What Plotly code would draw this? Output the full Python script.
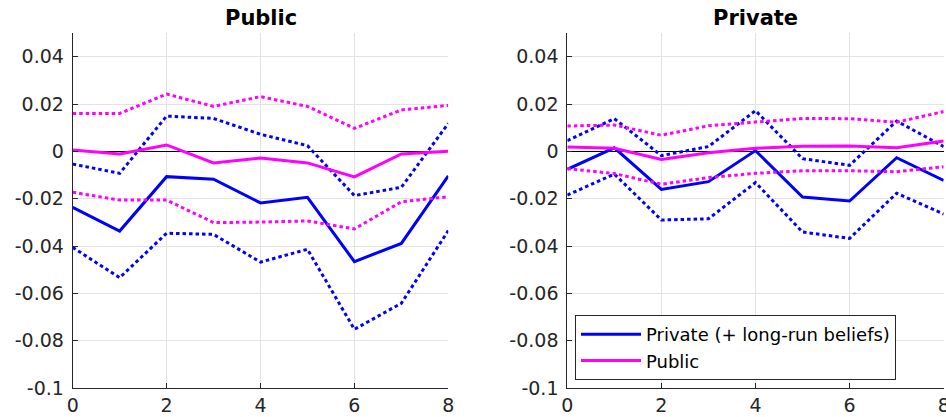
import plotly.graph_objects as go

# Horizons (quarters after the shock)
horizon = [0, 1, 2, 3, 4, 5, 6, 7, 8]

# Panel "Public": point estimates and bands
pub_priv_mean = [-0.0237, -0.0337, -0.0107, -0.0118, -0.0218, -0.0194, -0.0466, -0.0389, -0.0104]
pub_priv_lo = [-0.0406, -0.0534, -0.0346, -0.0351, -0.0468, -0.0414, -0.0752, -0.0642, -0.0335]
pub_priv_hi = [-0.0054, -0.0093, 0.0149, 0.0139, 0.0072, 0.0024, -0.0187, -0.0152, 0.0118]
pub_pub_mean = [0.0006, -0.0011, 0.0027, -0.0049, -0.0028, -0.0049, -0.0108, -0.0011, 0.0000]
pub_pub_lo = [-0.0173, -0.0206, -0.0206, -0.0301, -0.0299, -0.0294, -0.0328, -0.0213, -0.0192]
pub_pub_hi = [0.0160, 0.0160, 0.0242, 0.0190, 0.0231, 0.0190, 0.0097, 0.0175, 0.0194]

# Panel "Private": point estimates and bands
prv_priv_mean = [-0.0076, 0.0015, -0.0161, -0.0128, 0.0003, -0.0193, -0.0210, -0.0027, -0.0123]
prv_priv_lo = [-0.0185, -0.0096, -0.0290, -0.0285, -0.0132, -0.0341, -0.0368, -0.0177, -0.0265]
prv_priv_hi = [0.0045, 0.0138, -0.0018, 0.0020, 0.0172, -0.0031, -0.0059, 0.0128, 0.0020]
prv_pub_mean = [0.0018, 0.0013, -0.0034, -0.0006, 0.0013, 0.0021, 0.0023, 0.0015, 0.0044]
prv_pub_lo = [-0.0073, -0.0094, -0.0139, -0.0111, -0.0093, -0.0082, -0.0082, -0.0086, -0.0065]
prv_pub_hi = [0.0107, 0.0111, 0.0068, 0.0108, 0.0124, 0.0139, 0.0138, 0.0123, 0.0168]

panel_titles = ["Public", "Private"]
series_names = ["Private (+ long-run beliefs)", "Public"]

y_tickvals = [-0.1, -0.08, -0.06, -0.04, -0.02, 0, 0.02, 0.04]
y_ticktext = ["-0.1", "-0.08", "-0.06", "-0.04", "-0.02", "0", "0.02", "0.04"]
x_tickvals = [0, 2, 4, 6, 8]

BLUE = "#0000FF"
MAGENTA = "#FF00FF"
FONT = "DejaVu Sans"
AXIS_COLOR = "#262626"
LW = 3
DOTS = "3.5px,3px"

W, H = 946, 417
fig = go.Figure()

panels = [
    ("x", "y", pub_priv_mean, pub_priv_lo, pub_priv_hi, pub_pub_mean, pub_pub_lo, pub_pub_hi, False),
    ("x2", "y2", prv_priv_mean, prv_priv_lo, prv_priv_hi, prv_pub_mean, prv_pub_lo, prv_pub_hi, True),
]

for xa, ya, bm, bl, bh, mm, ml, mh, legend in panels:
    for mean, lo, hi, color, name in [(bm, bl, bh, BLUE, series_names[0]),
                                      (mm, ml, mh, MAGENTA, series_names[1])]:
        # confidence bands (dotted) then the point estimate (solid)
        for band in (lo, hi):
            fig.add_trace(go.Scatter(x=horizon, y=band, mode="lines", xaxis=xa, yaxis=ya,
                                     line=dict(color=color, width=LW, dash=DOTS),
                                     showlegend=False, hoverinfo="skip"))
        fig.add_trace(go.Scatter(x=horizon, y=mean, mode="lines", xaxis=xa, yaxis=ya,
                                 line=dict(color=color, width=LW), name=name,
                                 showlegend=legend))

y_dom = [1 - 388 / H, 1 - 33 / H]
x_doms = [[72.7 / W, 448.3 / W], [567.3 / W, 943.7 / W]]

tick_font = dict(family=FONT, size=19, color=AXIS_COLOR)
common_x = dict(range=[0, 8], tickvals=x_tickvals, showgrid=True, gridcolor="#e3e3e3",
                gridwidth=1, zeroline=False, showline=True, linecolor=AXIS_COLOR,
                linewidth=1, ticks="inside", ticklen=5, tickcolor=AXIS_COLOR,
                tickfont=tick_font, mirror=False, automargin=False,
                ticklabeloverflow="allow")
common_y = dict(range=[-0.1, 0.05], tickvals=y_tickvals, ticktext=y_ticktext, showgrid=True,
                gridcolor="#e3e3e3", gridwidth=1, zeroline=True, zerolinecolor="black",
                zerolinewidth=1, showline=True, linecolor=AXIS_COLOR, linewidth=1,
                ticks="inside", ticklen=5, tickcolor=AXIS_COLOR,
                tickfont=tick_font, mirror=False, automargin=False, ticklabelstandoff=4)

fig.update_layout(
    width=W, height=H,
    margin=dict(l=0, r=0, t=0, b=0, autoexpand=False),
    paper_bgcolor="white", plot_bgcolor="white",
    xaxis=dict(domain=x_doms[0], anchor="y", **common_x),
    yaxis=dict(domain=y_dom, anchor="x", **common_y),
    xaxis2=dict(domain=x_doms[1], anchor="y2", **common_x),
    yaxis2=dict(domain=y_dom, anchor="x2", **common_y),
    showlegend=True,
    legend=dict(x=575 / W, y=1 - 380 / H, xanchor="left", yanchor="bottom",
                bgcolor="white", bordercolor=AXIS_COLOR, borderwidth=1,
                font=dict(family=FONT, size=18, color="black"),
                tracegroupgap=0, itemwidth=60),
)

for dom, title in zip(x_doms, panel_titles):
    fig.add_annotation(x=(dom[0] + dom[1]) / 2, y=1 - 18 / H, xref="paper", yref="paper",
                       text="<b>%s</b>" % title, showarrow=False, xanchor="center",
                       yanchor="middle", font=dict(family=FONT, size=21, color="black"))

fig.write_html("out.html")
